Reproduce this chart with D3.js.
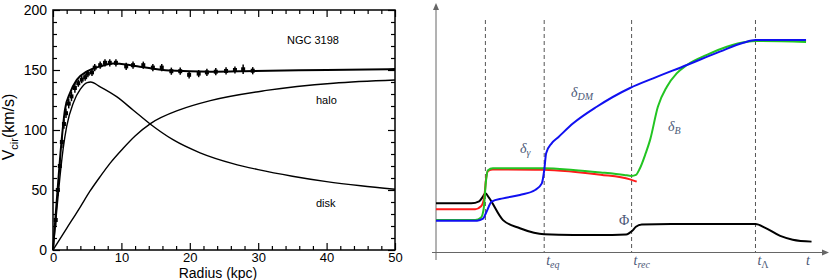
<!DOCTYPE html>
<html>
<head>
<meta charset="utf-8">
<script src="https://cdn.jsdelivr.net/npm/d3@7"></script>
<style>
  body { margin: 0; background: #fff; }
  svg { display: block; }
  .lab { font-family: "Liberation Sans", Arial, sans-serif; }
  .math { font-family: "Liberation Serif", "DejaVu Serif", serif; font-style: italic; fill: #4b5876; }
</style>
</head>
<body>
<svg id="chart" width="830" height="280"></svg>
<script>
'use strict'

// ---- left panel: NGC 3198 rotation curve (radius kpc, velocity km/s) ----
const obsRadius = [0.4, 0.7, 1.0, 1.3, 1.6, 1.9, 2.3, 2.7, 3.2, 3.7, 4.2, 4.7, 5.1, 5.7, 6.1, 6.9, 7.6, 8.3, 9.2,
                   10.7, 11.7, 13.2, 14.6, 15.9, 17.3, 18.6, 19.9, 21.3, 22.5, 23.8, 25.3, 26.6, 27.8, 29.2];
const obsVel    = [25, 50, 70, 90, 105, 114, 122, 128, 135, 139, 142, 144, 147, 148, 152, 154, 156, 156, 156,
                   153, 154, 154, 152, 152, 149, 149, 146, 147, 148, 148.6, 149.2, 150, 150.6, 149.4];
const obsErr    = [5, 5, 5, 5, 4, 4, 4, 4, 4, 3, 3, 3, 3, 3, 3, 3, 3, 3, 3,
                   3, 3, 3, 3, 3, 3, 3, 3, 3, 3, 3, 3, 3, 4, 3];

const fitRadius = [0, 0.6, 1.27, 1.75, 2.5, 3.5, 4.9, 6.9, 8.8, 10, 12.7, 17, 23, 29.5, 40, 50];
const fitVel    = [0, 45, 92, 117, 131, 142, 148.6, 153, 155.5, 155, 152.8, 149.5, 148.6, 149.2, 150, 150.8];

const diskRadius = [0, 0.5, 1, 1.5, 2, 3, 4, 5, 5.5, 6.9, 9.3, 11.7, 14.2, 17.6, 21.5, 26.3, 30, 35, 40, 45, 50];
const diskVel    = [0, 30, 60, 85, 103, 123, 134, 139.5, 140, 136, 127.8, 116.7, 105, 91.7, 81, 72, 67, 61.5, 57, 53.5, 50.6];

const haloRadius = [0, 2, 4, 5.4, 7, 8.3, 10.3, 12, 14.3, 18.6, 23, 31.2, 41, 50];
const haloVel    = [0, 18, 36, 49, 62, 72, 85, 95, 105.5, 117, 124.5, 133, 139, 141.7];

const xTicks = [0, 10, 20, 30, 40, 50];
const yTicks = [0, 50, 100, 150, 200];

// ---- right panel: growth of perturbations (time, amplitude, arbitrary units) ----
const epochT     = [12.6, 27.6, 49.9, 81.5];
const epochLabel = [["", ""], ["t", "eq"], ["t", "rec"], ["t", "Λ"]];

const phiT   = [0, 9, 11, 12, 12.6, 13.5, 17.1, 21.4, 25, 27.6, 35, 45, 48.5, 50, 51, 52.5, 60, 81.5, 84, 87.8, 91, 95.8];
const phiV   = [19.7, 19.7, 20.5, 22.5, 23.8, 22, 12.9, 9.6, 7.8, 7.2, 6.9, 6.9, 7.1, 8.5, 10.2, 11.1, 11.3, 11.3, 9.8, 6.5, 5, 4.2];

const gammaT = [0, 10, 11.5, 12.3, 12.8, 13.3, 14.5, 27.6, 35, 42, 49.5, 51.2];
const gammaV = [17.3, 17.3, 18.5, 22, 30, 32.8, 33.4, 33.3, 32.5, 31.3, 29.4, 28.5];

const baryT  = [0, 10, 11.5, 12.2, 12.7, 13.2, 14.5, 27.6, 35, 42, 48, 49.9, 51, 52, 53.5, 54.6, 56.6, 58.9, 61.4, 64, 69.1, 74.2, 79.3, 81.5, 94.4];
const baryV  = [13, 13, 14, 18, 28, 33, 33.9, 33.9, 33.2, 32.2, 31.2, 30.8, 31.2, 33.8, 40, 45.3, 58.8, 66.9, 72.3, 75.7, 79.8, 83.1, 85.1, 85.4, 85.0];

const dmT    = [0, 10.5, 12, 12.8, 14.2, 17.1, 21.4, 25.3, 27, 27.6, 28.1, 29.5, 31.2, 35, 41, 49.5, 55.4, 64, 72.4, 78.4, 81.5, 94.4];
const dmV    = [12.7, 12.7, 13.5, 16, 20.4, 21.7, 23.1, 25.1, 27.8, 33, 40, 44, 46.5, 52.1, 58.8, 66.4, 70.3, 75.7, 81.1, 84.7, 85.8, 85.8];

const svg = d3.select("#chart");

// ================= left panel =================
const x = d3.scaleLinear().domain([0, 50]).range([53, 395]);
const y = d3.scaleLinear().domain([0, 200]).range([250, 10]);
const left = svg.append("g");

function tickAxis(axisFn, pos, values, size, labels, pad, fs) {
  let a = axisFn.tickValues(values).tickSize(size).tickPadding(pad || 6);
  if (!labels) a = a.tickFormat("");
  let g = left.append("g").attr("transform", pos).call(a);
  g.select(".domain").remove();
  g.selectAll(".tick line").attr("stroke", "#000").attr("stroke-width", 1.2);
  g.selectAll("text").attr("class", "lab").attr("font-size", fs || 14).attr("fill", "#000");
  return g;
}

const xMinor = d3.range(0, 51, 2).filter(v => v % 10 !== 0);
const yMinor = d3.range(0, 201, 10).filter(v => v % 50 !== 0);

tickAxis(d3.axisBottom(x), "translate(0,250)", xTicks, -7, true, 3, 13);
tickAxis(d3.axisBottom(x), "translate(0,250)", xMinor, -4, false);
tickAxis(d3.axisTop(x), "translate(0,10)", xTicks, -7, false);
tickAxis(d3.axisTop(x), "translate(0,10)", xMinor, -4, false);
tickAxis(d3.axisLeft(y), "translate(53,0)", yTicks, -7, true);
tickAxis(d3.axisLeft(y), "translate(53,0)", yMinor, -4, false);
tickAxis(d3.axisRight(y), "translate(395,0)", yTicks, -7, false);
tickAxis(d3.axisRight(y), "translate(395,0)", yMinor, -4, false);

left.append("rect")
  .attr("x", 53).attr("y", 10).attr("width", 342).attr("height", 240)
  .attr("fill", "none").attr("stroke", "#000").attr("stroke-width", 1.5);

const leftLine = d3.line().x(d => x(d[0])).y(d => y(d[1])).curve(d3.curveMonotoneX);

[[diskRadius, diskVel, 1.4], [haloRadius, haloVel, 1.4], [fitRadius, fitVel, 2]].forEach(s => {
  left.append("path")
    .datum(d3.zip(s[0], s[1]))
    .attr("d", leftLine)
    .attr("fill", "none").attr("stroke", "#000").attr("stroke-width", s[2]);
});

const obs = d3.zip(obsRadius, obsVel, obsErr);
left.selectAll(".err").data(obs).enter().append("line")
  .attr("x1", d => x(d[0])).attr("x2", d => x(d[0]))
  .attr("y1", d => y(d[1] - d[2])).attr("y2", d => y(d[1] + d[2]))
  .attr("stroke", "#000").attr("stroke-width", 1.5);
left.selectAll(".pt").data(obs).enter().append("rect")
  .attr("x", d => x(d[0]) - 2).attr("y", d => y(d[1]) - 2)
  .attr("width", 4).attr("height", 4).attr("fill", "#000");

left.append("text").attr("class", "lab").attr("x", 287).attr("y", 44).attr("font-size", 11).text("NGC 3198");
left.append("text").attr("class", "lab").attr("x", 316).attr("y", 104).attr("font-size", 11).text("halo");
left.append("text").attr("class", "lab").attr("x", 316).attr("y", 207).attr("font-size", 11).text("disk");

left.append("text").attr("class", "lab").attr("x", 218).attr("y", 278)
  .attr("text-anchor", "middle").attr("font-size", 14).text("Radius (kpc)");

const yl = left.append("text").attr("class", "lab").attr("font-size", 16)
  .attr("text-anchor", "middle").attr("transform", "translate(14,127) rotate(-90)");
yl.append("tspan").text("V");
yl.append("tspan").attr("font-size", 11).attr("dy", 4).text("cir");
yl.append("tspan").attr("dy", -4).text("(km/s)");

// ================= right panel =================
const xr = d3.scaleLinear().domain([0, 100]).range([436, 828]);
const yr = d3.scaleLinear().domain([0, 100]).range([252, 5]);
const right = svg.append("g");

// axes with arrow heads
right.append("line").attr("x1", 436).attr("x2", 436).attr("y1", 260).attr("y2", 6)
  .attr("stroke", "#666").attr("stroke-width", 1);
right.append("line").attr("x1", 432).attr("x2", 827).attr("y1", 252.5).attr("y2", 252.5)
  .attr("stroke", "#666").attr("stroke-width", 1);
right.append("path").attr("d", "M433,10 L436,3 L439,10 Z").attr("fill", "#666");
right.append("path").attr("d", "M822,249.5 L829,252.5 L822,255.5 Z").attr("fill", "#666");

right.selectAll(".epoch").data(epochT).enter().append("line")
  .attr("x1", d => xr(d)).attr("x2", d => xr(d))
  .attr("y1", 20).attr("y2", 252)
  .attr("stroke", "#555").attr("stroke-width", 1).attr("stroke-dasharray", "4,3");

const rightLine = d3.line().x(d => xr(d[0])).y(d => yr(d[1])).curve(d3.curveMonotoneX);

[[phiT, phiV, "#000"], [gammaT, gammaV, "#ff1a1a"], [baryT, baryV, "#22c422"], [dmT, dmV, "#1010f0"]].forEach(s => {
  right.append("path")
    .datum(d3.zip(s[0], s[1]))
    .attr("d", rightLine)
    .attr("fill", "none").attr("stroke", s[2]).attr("stroke-width", 2);
});

// time labels
epochLabel.forEach((l, i) => {
  if (!l[0]) return;
  const t = right.append("text").attr("class", "math").attr("font-size", 14)
    .attr("x", xr(epochT[i]) + 2).attr("y", 265);
  t.append("tspan").text(l[0]);
  t.append("tspan").attr("font-size", 10).attr("dy", 3)
    .attr("font-style", l[1] === "Λ" ? "normal" : "italic").text(l[1]);
});
right.append("text").attr("class", "math").attr("font-size", 14).attr("x", 806).attr("y", 265).text("t");

function mathLabel(px, py, main, sub, upright) {
  const t = right.append("text").attr("class", "math").attr("font-size", 14).attr("x", px).attr("y", py);
  t.append("tspan").attr("font-style", upright ? "normal" : "italic").text(main);
  if (sub) t.append("tspan").attr("font-size", 10).attr("dy", 3).text(sub);
}
mathLabel(571, 97, "δ", "DM");
mathLabel(520, 153, "δ", "γ");
mathLabel(668, 131, "δ", "B");
mathLabel(619, 225, "Φ", "", true);
</script>
</body>
</html>
